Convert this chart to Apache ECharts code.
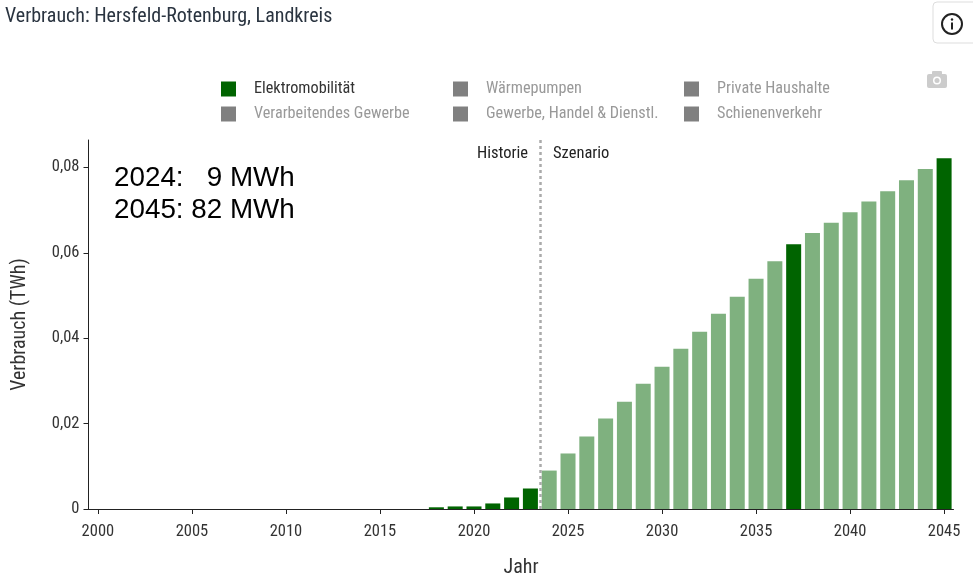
<!DOCTYPE html>
<html><head><meta charset="utf-8">
<style>html,body{margin:0;padding:0;background:#fff}#c{width:973px;height:582px}</style>
<script src="https://cdn.jsdelivr.net/npm/echarts@6/dist/echarts.min.js"></script>
</head><body><div id="c"></div>
<script>
const years = ['2000','2001','2002','2003','2004','2005','2006','2007','2008','2009','2010','2011','2012','2013','2014','2015','2016','2017','2018','2019','2020','2021','2022','2023','2024','2025','2026','2027','2028','2029','2030','2031','2032','2033','2034','2035','2036','2037','2038','2039','2040','2041','2042','2043','2044','2045'];
const values = [0,0,0,0,0,0,0,0,0,0,0,0,0,0,0,0,0,0,0.0004,0.0006,0.0006,0.0013,0.0027,0.0048,0.009,0.013,0.017,0.0212,0.0251,0.0293,0.0333,0.0375,0.0415,0.0457,0.0497,0.0539,0.058,0.062,0.0646,0.067,0.0695,0.072,0.0744,0.077,0.0796,0.0821];
const highlightedScenarioYears = ['2037','2045'];
const firstScenarioYear = 2024;
const historyBoundary = 2023.5;
const yTicks = [0,0.02,0.04,0.06,0.08];
const legendColumns = [
  ['Elektromobilität','Verarbeitendes Gewerbe'],
  ['Wärmepumpen','Gewerbe, Handel & Dienstl.'],
  ['Private Haushalte','Schienenverkehr']
];
const activeSeries = 'Elektromobilität';
const FONT = '"Roboto Condensed","Roboto",sans-serif';
const COND = 'condensed';
const DARK = '#006400', LIGHT = '#7fb17f', GREY = '#808080';

const chart = echarts.init(document.getElementById('c'));
const legendLefts = [216,448,679];
const inactive = legendColumns.flat().filter(n => n !== activeSeries);

chart.setOption({
  animation:false,
  title:{text:'Verbrauch: Hersfeld-Rotenburg, Landkreis',left:0,top:2,
    textStyle:{fontFamily:FONT,fontSize:20,fontWeight:COND,color:'#2a3440'}},
  legend:legendColumns.map((col,i)=>({
    orient:'vertical',left:legendLefts[i],top:76,itemWidth:15,itemHeight:15,itemGap:9,
    icon:'rect',selectedMode:false,
    textStyle:{fontFamily:FONT,fontWeight:COND,fontSize:16.2,padding:[3,0,0,13]},
    data:col.map(n=>({name:n,textStyle:{color:n===activeSeries?'#333':'#999'}}))
  })),
  grid:{left:88.5,right:19.5,top:140,bottom:73,containLabel:false,outerBoundsMode:'none'},
  xAxis:[{
    type:'category',data:years,offset:1,
    axisLine:{show:true,lineStyle:{color:'#222',width:1}},
    axisTick:{show:true,alignWithLabel:true,interval:4,length:5,lineStyle:{color:'#222'}},
    axisLabel:{interval:4,margin:13,fontFamily:FONT,fontWeight:COND,fontSize:16.5,color:'#333'},
    name:'Jahr',nameLocation:'middle',nameGap:48,
    nameTextStyle:{fontFamily:FONT,fontWeight:COND,fontSize:20,color:'#333'}
  },{
    type:'value',min:1999.5,max:2045.5,show:false
  }],
  yAxis:{
    type:'value',min:0,max:0.0864,
    axisLine:{show:true,lineStyle:{color:'#222',width:1}},
    axisTick:{show:true,length:5,customValues:yTicks,lineStyle:{color:'#222'}},
    splitLine:{show:false},
    axisLabel:{customValues:yTicks,margin:9,fontFamily:FONT,fontWeight:COND,fontSize:16.5,color:'#333',
      formatter:v=>v===0?'0':v.toFixed(2).replace('.',',')},
    name:'Verbrauch (TWh)',nameLocation:'middle',nameGap:59,
    nameTextStyle:{fontFamily:FONT,fontWeight:COND,fontSize:20,color:'#333'}
  },
  series:[
    {name:activeSeries,type:'bar',stack:'total',barWidth:15,itemStyle:{color:DARK},
     data:years.map((y,i)=>({value:values[i],itemStyle:{color:
       (+y<firstScenarioYear||highlightedScenarioYears.includes(y))?DARK:LIGHT}}))},
    {type:'line',xAxisIndex:1,data:[],silent:true,
     markLine:{silent:true,symbol:'none',label:{show:false},
       lineStyle:{color:'#aaa',type:[3,3],width:2.5},
       data:[{xAxis:historyBoundary}]}},
    ...inactive.map(n=>({name:n,type:'bar',stack:'total',data:[],itemStyle:{color:GREY}}))
  ],
  graphic:[
    {type:'text',left:477,top:145.5,style:{text:'Historie',font:COND+' 16.5px '+FONT,fill:'#222'}},
    {type:'text',left:553,top:145.5,style:{text:'Szenario',font:COND+' 16.5px '+FONT,fill:'#222'}},
    {type:'text',left:114,top:164,style:{text:'2024:   9 MWh',font:'27.8px "Liberation Sans",Arial,sans-serif',fill:'#000'}},
    {type:'text',left:114,top:196,style:{text:'2045: 82 MWh',font:'27.8px "Liberation Sans",Arial,sans-serif',fill:'#000'}},
    {type:'rect',shape:{x:933,y:2,width:44,height:41,r:4},style:{fill:'#fff',stroke:'#ddd',lineWidth:1}},
    {type:'circle',shape:{cx:952,cy:24,r:10},style:{fill:'none',stroke:'#222',lineWidth:2}},
    {type:'circle',shape:{cx:952,cy:19.5,r:1.2},style:{fill:'#222'}},
    {type:'rect',shape:{x:951,y:22.5,width:2,height:7},style:{fill:'#222'}},
    {type:'rect',shape:{x:927,y:74,width:20,height:14,r:2},style:{fill:'#ccc'}},
    {type:'rect',shape:{x:932,y:71,width:10,height:4,r:1},style:{fill:'#ccc'}},
    {type:'circle',shape:{cx:937,cy:80.5,r:4},style:{fill:'#fff'}},
    {type:'circle',shape:{cx:937,cy:80.5,r:2.5},style:{fill:'#ccc'}}
  ]
});
</script></body></html>
